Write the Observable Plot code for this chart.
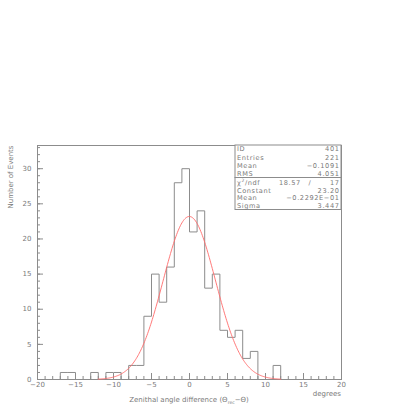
<!DOCTYPE html>
<html><head><meta charset="utf-8">
<script src="https://cdn.jsdelivr.net/npm/d3@7"></script>
<script src="https://cdn.jsdelivr.net/npm/@observablehq/plot@0.6"></script>
<style>
html,body{margin:0;padding:0;background:#fff}
#chart svg{display:block}
</style>
</head><body><div id="chart"></div>
<script>
// Histogram bins (left edges, width 1 degree) and counts
const binLow = [-20,-19,-18,-17,-16,-15,-14,-13,-12,-11,-10,-9,-8,-7,-6,-5,-4,-3,-2,-1,0,1,2,3,4,5,6,7,8,9,10,11,12,13,14,15,16,17,18,19];
const counts = [0,0,0,1,1,0,0,1,0,1,1,0,2,2,9,15,11,16,28,30,21,24,13,15,7,6,7,3,4,0,0,2,0,0,0,0,0,0,0,0];
const binWidth = 1;

// Gaussian fit parameters (from stats box)
const fitConstant = 23.20;
const fitMean = -0.02292;
const fitSigma = 3.447;
const fitRange = [-12, 12];

// Stats box
const statsLabels = ["ID", "Entries", "Mean", "RMS"];
const statsValues = ["401", "221", "\u22120.1091", "4.051"];
const fitLabels = ["Constant", "Mean", "Sigma"];
const fitValues = ["23.20", "\u22120.2292E\u221201", "3.447"];
const chi2 = "18.57", ndf = "17";

// Ticks
const xMajor = [-20,-15,-10,-5,0,5,10,15,20];
const xMinor = [-20,-19,-18,-17,-16,-15,-14,-13,-12,-11,-10,-9,-8,-7,-6,-5,-4,-3,-2,-1,0,1,2,3,4,5,6,7,8,9,10,11,12,13,14,15,16,17,18,19,20];
const yMajor = [0,5,10,15,20,25,30];
const yMinor = [0,1,2,3,4,5,6,7,8,9,10,11,12,13,14,15,16,17,18,19,20,21,22,23,24,25,26,27,28,29,30,31,32,33];

// step outline
const steps = [];
binLow.forEach((lo, i) => {
  steps.push({x: lo, y: counts[i]});
  steps.push({x: lo + binWidth, y: counts[i]});
});
steps.unshift({x: binLow[0], y: 0});
steps.push({x: binLow[binLow.length-1] + binWidth, y: 0});

const fitPts = d3.range(fitRange[0], fitRange[1] + 1e-9, 0.1).map(x => ({
  x, y: fitConstant * Math.exp(-0.5 * ((x - fitMean) / fitSigma) ** 2)
}));

const gray = "#8c8c8c", textGray = "#7a7a7a";
const FONT = "DejaVu Sans";

const plot = Plot.plot({
  width: 409, height: 409,
  marginLeft: 37, marginRight: 68, marginTop: 145, marginBottom: 30,
  x: {domain: [-20, 20]},
  y: {domain: [0, 33.3]},
  style: {fontFamily: FONT, fontSize: "7px", color: textGray, background: "#fff"},
  marks: [
    Plot.frame({stroke: gray}),
    Plot.axisX({ticks: xMajor, tickSize: -6, fill: "none", stroke: gray, label: null}),
    Plot.axisX({ticks: xMinor, tickSize: -3, fill: "none", stroke: gray, label: null}),
    Plot.axisX({ticks: xMajor, tickSize: 0, tickPadding: 3, fill: textGray, label: null, tickFormat: d3.format("d")}),
    Plot.axisY({ticks: yMajor, tickSize: -6, fill: "none", stroke: gray, label: null}),
    Plot.axisY({ticks: yMinor, tickSize: -3, fill: "none", stroke: gray, label: null}),
    Plot.axisY({ticks: yMajor, tickSize: 0, tickPadding: 6, fill: textGray, label: null, tickFormat: d3.format("d")}),
    Plot.line(steps, {x: "x", y: "y", stroke: gray, strokeWidth: 1}),
    Plot.line(fitPts, {x: "x", y: "y", stroke: "#ff6b6b", strokeWidth: 0.9}),
    Plot.text(["Number of Events"], {frameAnchor: "top-left", rotate: -90, textAnchor: "end", lineAnchor: "middle", dx: -27, fill: textGray})
  ]
});
document.getElementById("chart").appendChild(plot);

const svg = d3.select(plot);
const xs = plot.scale("x"), ys = plot.scale("y");
const fx0 = xs.apply(-20), fx1 = xs.apply(20), fy0 = ys.apply(0), fy1 = ys.apply(33.3);

// x-axis title and unit
const xl = svg.append("text").attr("x", (fx0 + fx1) / 2).attr("y", fy0 + 23)
  .attr("text-anchor", "middle").attr("fill", textGray)
  .style("font-family", FONT).style("font-size", "7px");
xl.append("tspan").text("Zenithal angle difference (\u0398");
xl.append("tspan").attr("font-size", "4.5px").attr("dy", 1.5).text("rec");
xl.append("tspan").attr("dy", -1.5).text("\u2212\u0398)");

svg.append("text").attr("x", fx1).attr("y", fy0 + 17)
  .attr("text-anchor", "end").attr("fill", textGray)
  .style("font-family", FONT).style("font-size", "7px").text("degrees");

// stats box
const bx0 = 235, bx1 = fx1, by0 = fy1, bmid = 177.5, by1 = 209.5;
const g = svg.append("g").attr("fill", textGray).attr("text-anchor", "start")
  .style("font-family", FONT).style("font-size", "6.6px").style("letter-spacing", "0.6px");
g.append("rect").attr("x", bx0).attr("y", by0).attr("width", bx1 - bx0).attr("height", bmid - by0)
  .attr("fill", "#fff").attr("stroke", gray);
g.append("rect").attr("x", bx0).attr("y", bmid).attr("width", bx1 - bx0).attr("height", by1 - bmid)
  .attr("fill", "#fff").attr("stroke", gray);
const rowY1 = [151, 159.5, 168, 175.8];
statsLabels.forEach((t, i) => {
  g.append("text").attr("x", bx0 + 2).attr("y", rowY1[i]).attr("text-anchor", "start").text(t);
  g.append("text").attr("x", bx1 - 1.5).attr("y", rowY1[i]).attr("text-anchor", "end").text(statsValues[i]);
});
const c = g.append("text").attr("x", bx0 + 2).attr("y", 184.7).attr("text-anchor", "start");
c.append("tspan").text("\u03C7");
c.append("tspan").attr("font-size", "4.5px").attr("dy", -3).text("2");
c.append("tspan").attr("dy", 3).text("/ndf");
g.append("text").attr("x", 279).attr("y", 184.7).attr("text-anchor", "start").text(chi2);
g.append("text").attr("x", 310).attr("y", 184.7).attr("text-anchor", "middle").text("/");
g.append("text").attr("x", bx1 - 1.5).attr("y", 184.7).attr("text-anchor", "end").text(ndf);
const rowY2 = [192.7, 200.3, 207.5];
fitLabels.forEach((t, i) => {
  g.append("text").attr("x", bx0 + 2).attr("y", rowY2[i]).attr("text-anchor", "start").text(t);
  g.append("text").attr("x", bx1 - 1.5).attr("y", rowY2[i]).attr("text-anchor", "end").text(fitValues[i]);
});
</script>
</body></html>
